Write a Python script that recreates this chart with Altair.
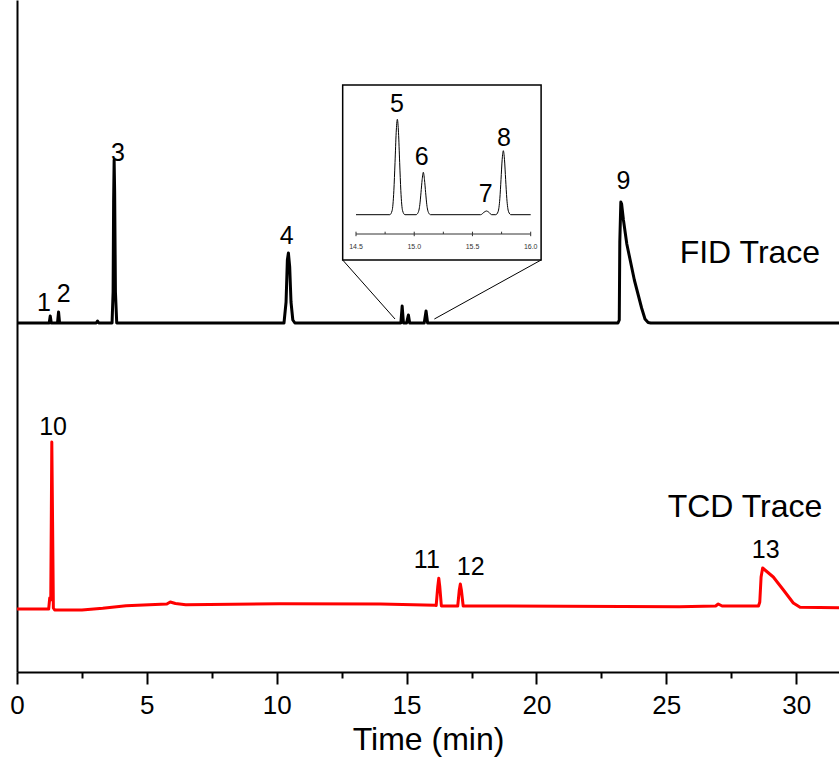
import altair as alt
import pandas as pd

FONT = "Liberation Sans"

# ---- main FID trace (time in min, signal in arbitrary units) ----
fid_time = [0.0, 1.24, 1.28, 1.32, 1.56, 1.60, 1.64, 3.05, 3.10, 3.15,
            3.66, 3.70, 3.72, 3.74, 3.76, 3.79, 3.84,
            10.28, 10.36, 10.41, 10.45, 10.50, 10.55, 10.62, 10.70,
            14.78, 14.83, 14.88, 15.00, 15.07, 15.12, 15.68, 15.75, 15.81,
            23.14, 23.19, 23.21, 23.25, 23.28, 23.35, 23.48, 23.77, 24.05, 24.18, 24.30, 24.40,
            31.65]
fid_val = [349, 349, 356, 349, 349, 360, 349, 349, 351, 349,
           349, 380, 470, 512, 480, 380, 349,
           349, 370, 412, 419, 405, 370, 352, 349,
           349, 366, 349, 349, 357, 349, 349, 361, 349,
           349, 352, 430, 470, 468, 452, 428, 392, 364, 353, 349.5, 349,
           349]

# ---- main TCD trace ----
tcd_time = [0.0, 1.22, 1.26, 1.30, 1.32, 1.34, 1.37, 1.40, 1.45, 2.5, 3.3, 4.2,
            5.77, 5.90, 6.10, 6.50, 10.1, 14.0, 16.1,
            16.14, 16.20, 16.24, 16.28, 16.34,
            16.97, 17.03, 17.07, 17.11, 17.18,
            17.8, 25.5, 26.9, 27.0, 27.15, 28.5,
            28.55, 28.60, 28.65, 28.71, 28.80, 29.12, 29.51, 29.89, 30.15, 31.65]
tcd_val = [63, 63, 74, 72, 150, 230, 150, 64, 62, 62, 63.7, 66.3,
           68, 70, 68.5, 67.3, 68.3, 68, 66.7,
           66.5, 85, 93.7, 85, 66,
           66, 82, 88, 82, 66,
           66, 65.3, 66, 68, 66, 66,
           66, 70, 95, 104, 102, 95, 82, 69, 64.7, 64.3]

# ---- inset trace (14.5-16.0 min) ----
ins_time = [14.50, 14.79, 14.81, 14.825, 14.835, 14.845, 14.855, 14.865, 14.875, 14.885, 14.90, 14.92,
            15.015, 15.033, 15.048, 15.058, 15.068, 15.078, 15.088, 15.098, 15.108, 15.123, 15.14,
            15.57, 15.60, 15.62, 15.64, 15.665,
            15.70, 15.72, 15.735, 15.745, 15.755, 15.765, 15.775, 15.785, 15.795, 15.81, 15.83, 16.0]
ins_val = [0, 0, 4, 24, 52, 82, 95.4, 82, 52, 24, 4, 0,
           0, 2, 10, 22, 35, 42.4, 35, 22, 10, 2, 0,
           0, 2.5, 3.7, 2.5, 0,
           0, 3, 16, 35, 55, 64, 55, 35, 16, 3, 0, 0]

# ---- peak labels ----
lab_text = ["1", "2", "3", "4", "9", "10", "11", "12", "13"]
lab_time = [1.04, 1.80, 3.89, 10.38, 23.35, 1.39, 15.78, 17.47, 28.83]
lab_val = [361, 370, 511, 428, 483, 237, 104, 97, 114]

trace_text = ["FID Trace", "TCD Trace"]
trace_time = [28.22, 28.03]
trace_val = [409, 155]

ins_lab_text = ["5", "6", "7", "8"]
ins_lab_time = [14.852, 15.064, 15.614, 15.771]
ins_lab_val = [103, 49.7, 13, 68.7]

# inset frame and connector lines (main coordinates)
box_t1, box_t2, box_v1, box_v2 = 12.54, 20.18, 412, 587
conn_t1 = [12.54, 20.18]
conn_v1 = [412, 412]
conn_t2 = [14.555, 16.07]
conn_v2 = [353, 353]

x_ticks = [0, 2.5, 5, 7.5, 10, 12.5, 15, 17.5, 20, 22.5, 25, 27.5, 30]

# inset axis (inset coordinates)
ins_axis_v = -19.3
ins_tick_t = [14.5, 14.75, 15.0, 15.25, 15.5, 15.75, 16.0]
ins_tick_lo = [-21.5, -19.3, -21.5, -19.3, -21.5, -19.3, -21.5]
ins_tick_hi = [-17.0, -17.0, -17.0, -17.0, -17.0, -17.0, -17.0]
ins_lab_ax_t = [14.5, 15.0, 15.5, 16.0]
ins_lab_ax_s = ["14.5", "15.0", "15.5", "16.0"]
ins_lab_ax_v = [-34.5, -34.5, -34.5, -34.5]

fid = pd.DataFrame({"t": fid_time, "v": fid_val})
tcd = pd.DataFrame({"t": tcd_time, "v": tcd_val})
ins = pd.DataFrame({"t": ins_time, "v": ins_val})
labs = pd.DataFrame({"t": lab_time, "v": lab_val, "s": lab_text})
tr = pd.DataFrame({"t": trace_time, "v": trace_val, "s": trace_text})
ilabs = pd.DataFrame({"t": ins_lab_time, "v": ins_lab_val, "s": ins_lab_text})
box = pd.DataFrame({"t1": [box_t1], "t2": [box_t2], "v1": [box_v1], "v2": [box_v2]})
conn = pd.DataFrame({"t1": conn_t1, "v1": conn_v1, "t2": conn_t2, "v2": conn_v2})
iax = pd.DataFrame({"t1": [ins_tick_t[0]], "t2": [ins_tick_t[-1]], "v": [ins_axis_v]})
itk = pd.DataFrame({"t": ins_tick_t, "v1": ins_tick_lo, "v2": ins_tick_hi})
itl = pd.DataFrame({"t": ins_lab_ax_t, "v": ins_lab_ax_v, "s": ins_lab_ax_s})

xmain = alt.X("t:Q", title="Time (min)",
              scale=alt.Scale(domain=[0, 31.65], nice=False, zero=False),
              axis=alt.Axis(values=x_ticks, format="~g",
                            labelExpr="datum.value % 5 === 0 ? datum.label : ''",
                            tickSize={"condition": {"test": "datum.value % 5 !== 0", "value": 6}, "value": 12},
                            tickWidth=2, domainWidth=2, domainColor="black", tickColor="black",
                            labelFont=FONT, labelFontSize=26, labelColor="black", labelPadding=8,
                            titleFont=FONT, titleFontSize=32, titleFontWeight="normal",
                            titleColor="black", titlePadding=6, grid=False, labelFlush=False))
ymain = alt.Y("v:Q", scale=alt.Scale(domain=[0, 672], nice=False, zero=False),
              axis=alt.Axis(title=None, labels=False, ticks=False, domainWidth=2,
                            domainColor="black", grid=False))

fid_line = alt.Chart(fid).mark_line(color="black", strokeWidth=3, strokeJoin="round").encode(x=xmain, y=ymain)
tcd_line = alt.Chart(tcd).mark_line(color="#ff0000", strokeWidth=3, strokeJoin="round").encode(x="t:Q", y="v:Q")
box_rect = alt.Chart(box).mark_rect(fill="white", stroke="black", strokeWidth=1.5).encode(
    x="t1:Q", x2="t2", y="v1:Q", y2="v2")
conn_rule = alt.Chart(conn).mark_rule(color="black", strokeWidth=1).encode(
    x="t1:Q", x2="t2", y="v1:Q", y2="v2")
lab_mark = alt.Chart(labs).mark_text(font=FONT, fontSize=25, baseline="alphabetic", color="black").encode(
    x="t:Q", y="v:Q", text="s:N")
tr_mark = alt.Chart(tr).mark_text(font=FONT, fontSize=32, baseline="alphabetic", color="black").encode(
    x="t:Q", y="v:Q", text="s:N")

main = alt.layer(fid_line, tcd_line, box_rect, conn_rule, lab_mark, tr_mark)

xins = alt.X("t:Q", title=None,
             scale=alt.Scale(domain=[14.5, 16.0], range=[339, 513.7], nice=False, zero=False),
             axis=None)
yins = alt.Y("v:Q", scale=alt.Scale(domain=[0, 100], range=[214.7, 114.7], nice=False, zero=False),
             axis=None)

ins_line = alt.Chart(ins).mark_line(color="black", strokeWidth=1, interpolate="monotone").encode(x=xins, y=yins)
ins_lab = alt.Chart(ilabs).mark_text(font=FONT, fontSize=25, baseline="alphabetic", color="black").encode(
    x="t:Q", y="v:Q", text="s:N")
ins_dom = alt.Chart(iax).mark_rule(color="#333333", strokeWidth=1).encode(
    x="t1:Q", x2="t2", y="v:Q")
ins_tk = alt.Chart(itk).mark_rule(color="#333333", strokeWidth=1).encode(
    x="t:Q", y="v1:Q", y2="v2")
ins_tl = alt.Chart(itl).mark_text(font=FONT, fontSize=7, baseline="alphabetic", color="#333333").encode(
    x="t:Q", y="v:Q", text="s:N")
inset = alt.layer(ins_line, ins_lab, ins_dom, ins_tk, ins_tl)

chart = alt.layer(main, inset).resolve_scale(x="independent", y="independent").resolve_axis(
    x="independent", y="independent").properties(
    width=822, height=672, autosize="none",
    padding={"left": 17, "top": 0, "right": 0, "bottom": 85},
    background="white").configure_view(stroke=None)

chart.save("out.html", embed_options={"renderer": "svg", "actions": False})
